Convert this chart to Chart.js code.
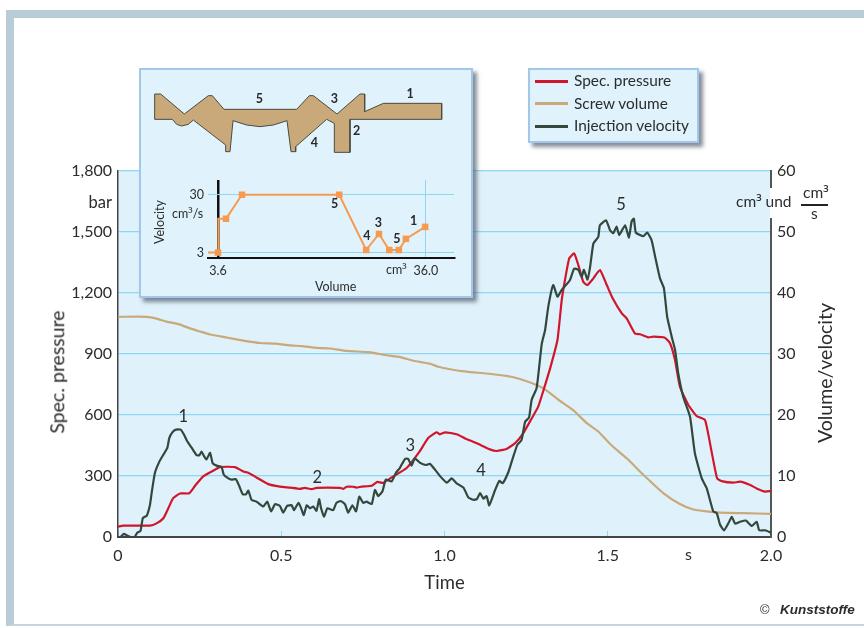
<!DOCTYPE html>
<html><head><meta charset="utf-8">
<script src="https://cdn.jsdelivr.net/npm/chart.js@4/dist/chart.umd.min.js"></script>
<style>
html,body{margin:0;padding:0;background:#fff;overflow:hidden}
#page{position:relative;width:864px;height:628px;overflow:hidden;font-family:Lato,sans-serif;color:#2c2c2c}
#frame{position:absolute;left:6px;top:10px;width:858px;height:616px;border-left:8px solid #b9cdd6;border-top:8px solid #b9cdd6;border-bottom:2px solid #c6d5dc;box-sizing:border-box}
canvas{position:absolute;display:block}
.t{position:absolute;white-space:nowrap;line-height:1}
.s3{font-family:'Noto Sans'}
.rot{transform:translate(-50%,-50%) rotate(-90deg)}
.box{position:absolute;background:#e0f2fb;border:2px solid #a3c7e8;box-sizing:border-box;box-shadow:4px 4px 4px rgba(70,80,100,.65)}
.swatch{position:absolute;left:5px;width:33px;height:3px}
#axisGap{position:absolute;left:770px;top:188px;width:3px;height:30px;background:#fff}
</style></head><body>
<div id="page">
<div id="frame"></div>
<canvas id="main" width="864" height="628" style="left:0;top:0"></canvas>
<div id="axisGap"></div>
<div class="t rot" style="left:57px;top:372px;font-size:19.5px">Spec. pressure</div>
<div class="t rot" style="left:825px;top:373px;font-size:19.5px">Volume/velocity</div>
<div class="t" style="right:752px;top:194px;font-size:16.5px">bar</div>
<div class="t" style="left:685px;top:546px;font-size:16px">s</div>
<div class="t" style="left:736px;top:194px;font-size:15.5px">cm<span class="s3">³</span> und</div>
<div class="t" style="left:803px;top:185px;font-size:15.5px">cm<span class="s3">³</span></div>
<div style="position:absolute;left:801px;top:204px;width:27px;height:1.5px;background:#222"></div>
<div class="t" style="left:811px;top:206px;font-size:15.5px">s</div>
<div class="t" style="left:760px;top:603px;font-size:13px;font-family:'Liberation Sans'">©</div>
<div class="t" style="left:780px;top:603px;font-size:13.5px;font-weight:bold;font-style:italic;font-family:'Liberation Sans'">Kunststoffe</div>

<div class="box" id="legend" style="left:528px;top:68px;width:171px;height:75px"></div>

<div class="box" style="left:139px;top:68px;width:334px;height:230px"></div>
<canvas id="profile" width="300" height="75" style="left:150px;top:85px"></canvas>
<canvas id="inset" width="329" height="225" style="left:141px;top:70px"></canvas>
<div class="t rot" style="left:160px;top:222px;font-size:12.5px">Velocity</div>
<div class="t" style="left:172px;top:208px;font-size:12.5px">cm<span class="s3">³</span>/s</div>
<div class="t" style="left:386px;top:264px;font-size:12.5px">cm<span class="s3">³</span></div>
<div class="t" style="left:315px;top:281px;font-size:12.5px">Volume</div>
</div>
<script>
const pressureTimes=[0,.016,.098,.118,.139,.154,.169,.19,.218,.236,.261,.287,.312,.358,.384,.399,.424,.46,.496,.527,.557,.572,.593,.608,.68,.69,.7,.72,.731,.746,.777,.794,.812,.843,.884,.924,.95,.976,.986,1.002,1.037,1.063,1.099,1.139,1.16,1.19,1.216,1.241,1.267,1.287,1.308,1.325,1.346,1.359,1.369,1.382,1.397,1.41,1.425,1.437,1.456,1.476,1.497,1.515,1.543,1.558,1.583,1.599,1.624,1.64,1.675,1.691,1.706,1.721,1.747,1.772,1.798,1.818,1.835,1.849,1.885,1.905,1.936,1.956,1.982,2];
const pressureBar=[51,56,56,67,92,141,191,214,215,252,298,322,344,344,322,316,293,260,248,243,237,242,235,242,242,237,247,247,243,248,252,271,266,298,339,421,487,515,505,515,505,485,461,431,423,433,461,510,583,641,747,838,969,1165,1264,1370,1395,1337,1255,1239,1272,1313,1239,1174,1100,1075,1001,997,982,985,980,952,870,739,649,595,575,420,288,275,267,272,256,239,223,226];
const volumeTimes=[0,.088,.118,.149,.185,.221,.251,.282,.333,.384,.435,.481,.527,.563,.608,.649,.7,.767,.823,.864,.905,.956,.981,1.017,1.068,1.129,1.19,1.231,1.282,1.313,1.349,1.394,1.435,1.471,1.512,1.558,1.609,1.67,1.721,1.762,1.803,1.844,1.915,2];
const screwVolume=[36.1,36.1,35.8,35.3,34.9,34.2,33.7,33.2,32.7,32.2,31.8,31.7,31.4,31.3,31,30.9,30.5,30.3,29.8,29.5,28.9,28.4,27.9,27.5,27.1,26.8,26.4,25.9,24.9,24,22.5,20.8,18.7,17.3,15,12.9,10.2,7.2,5.4,4.5,4.2,4,3.9,3.8];
const velocityTimes=[.008,.018,.029,.039,.051,.059,.069,.076,.088,.098,.103,.113,.127,.139,.151,.157,.167,.178,.192,.202,.212,.226,.241,.249,.256,.263,.271,.282,.29,.302,.317,.324,.338,.348,.361,.371,.382,.392,.399,.409,.424,.445,.457,.469,.481,.496,.506,.518,.532,.539,.553,.561,.569,.578,.588,.598,.608,.616,.622,.631,.641,.659,.669,.682,.695,.705,.718,.729,.739,.751,.761,.777,.787,.797,.81,.82,.838,.851,.863,.879,.889,.899,.909,.924,.943,.955,.97,.986,1.007,1.022,1.037,1.058,1.073,1.088,1.099,1.109,1.119,1.129,1.137,1.155,1.168,1.178,1.196,1.209,1.223,1.236,1.247,1.259,1.267,1.282,1.29,1.298,1.308,1.318,1.333,1.346,1.359,1.384,1.397,1.41,1.42,1.427,1.438,1.446,1.456,1.471,1.476,1.495,1.507,1.517,1.527,1.535,1.553,1.565,1.573,1.58,1.586,1.609,1.621,1.634,1.645,1.66,1.672,1.682,1.696,1.706,1.716,1.731,1.752,1.767,1.788,1.803,1.823,1.834,1.844,1.856,1.869,1.88,1.89,1.905,1.923,1.941,1.956,1.964,1.982,2];
const injectionVelocity=[0,.5,.2,0,0,.7,1,3.1,3.5,5.3,7.2,10.5,12.4,13.5,14.6,16.2,17.2,17.6,17.6,16.8,15.7,14.6,13.4,13.4,14,13.3,12.7,13.8,12.1,11.7,11.5,10.2,9.6,9.4,9.5,8.4,7,7,7.6,6.1,5.8,5,5.8,4.2,5.4,5.1,4,5.1,5.2,4.4,5.6,4.7,3.6,5.2,4.7,5,4.3,6.2,4.7,3.3,4.7,4.4,5.6,5.9,5.4,4,5.2,4.2,6.6,5.6,5.8,5.4,7.7,6.7,7.5,9.4,9.1,10.5,11.3,12.8,12.8,11.7,12.9,12.2,11.8,12,11.1,10,8.9,9.6,8.8,8.1,6.5,6.1,6.2,7.2,6.3,6.7,5.2,7.7,9.2,8.8,10.7,12.9,15.1,15.9,18.9,19.6,22.5,24.4,27.9,31.7,33.9,37.8,41.3,39.4,40.5,42.1,44,43.8,42.6,43.8,42.2,44.3,48.1,49.2,51.1,51.9,50.3,49.8,50.9,49.5,51.1,49.1,51.7,52.2,49.9,49.3,49.9,48.7,46,42.4,40.8,36.1,32.8,30.7,26.8,23,19.7,13.7,9.6,8,4.2,3.9,2,1.1,2.2,3.3,2.2,2.5,2.7,1.8,2.5,1.1,1.1,.7];
const peakLabels=['1','2','3','4','5'];
const peakTimes=[.2,.61,.895,1.112,1.541];
const peakValues=[19.8,9.7,14.9,10.8,54.4];

const insetVolumes=[2.04,3.6,3.65,4.85,7.34,22.5,26.7,28.7,30.3,31.8,32.9,35.9];
const insetVelocities=[3,3,18.8,18.8,30,30,4.2,11.7,4.2,4.2,9.4,15];
const insetMarkerFlags=[0,1,0,1,1,1,1,1,1,1,1,1];
const insetLabels=['5','4','3','5','1'];
const insetLabelVolumes=[21.8,26.8,28.6,31.5,34.1];
const insetLabelVelocities=[25.6,10.6,16.9,9.4,17.8];
const insetXTicks=[3.6,36];
const insetYTicks=[3,30];

const profileX=[74,92,163,235,247,282,500,538,550,621,690,704,704,760,935,935,660,660,613,613,590,497,497,483,471,430,390,350,309,300,287,287,190,175,155,140,127,74,74];
const profileY=[102,102,162,107,107,148,148,107,107,162,102,102,155,130,130,178,178,277,277,190,178,260,275,275,182,195,200,195,182,275,275,255,180,193,198,193,178,178,102];
const profileLabels=['5','3','1','2','4'];
const profileLabelX=[388,613,840,680,553];
const profileLabelY=[116,118,103,212,248];

const seriesNames=['Spec. pressure','Screw volume','Injection velocity'];
const seriesColors=['#d1162c','#c9a97a','#33473c'];
const GRID='#8ed7f2', INK='#2c2c2c', FONT='Lato';
const pts=(xs,ys)=>xs.map((x,i)=>({x,y:ys[i]}));

const notes={id:'notes',afterDraw(c,a,o){
  if(!o.text)return;const g=c.ctx;g.save();g.font=o.font;g.fillStyle=o.color;g.textAlign='center';g.textBaseline='middle';
  o.text.forEach((t,i)=>g.fillText(t,c.scales.x.getPixelForValue(o.xs[i]),c.scales[o.axis].getPixelForValue(o.ys[i])));g.restore();}};
const plotBg={id:'plotBg',beforeDraw(c,a,o){if(!o.color)return;const r=c.chartArea;c.ctx.save();c.ctx.fillStyle=o.color;c.ctx.fillRect(r.left,r.top,r.right-r.left,r.bottom-r.top);c.ctx.restore();}};

new Chart(document.getElementById('main'),{type:'line',plugins:[plotBg,notes],
 data:{datasets:[
  {label:seriesNames[0],data:pts(pressureTimes,pressureBar),yAxisID:'y',borderColor:seriesColors[0],borderWidth:2.2,pointRadius:0,tension:.15,order:1},
  {label:seriesNames[1],data:pts(volumeTimes,screwVolume),yAxisID:'y1',borderColor:seriesColors[1],borderWidth:2.2,pointRadius:0,tension:.15,order:2},
  {label:seriesNames[2],data:pts(velocityTimes,injectionVelocity),yAxisID:'y1',borderColor:seriesColors[2],borderWidth:2.2,pointRadius:0,tension:.15,order:0}]},
 options:{responsive:false,animation:false,events:[],layout:{padding:{left:0,right:0,top:171,bottom:34}},
  plugins:{legend:{display:false},tooltip:{enabled:false},plotBg:{color:'#dff2fb'},
   notes:{text:peakLabels,xs:peakTimes,ys:peakValues,axis:'y1',font:'16.5px '+FONT,color:INK}},
  scales:{
   x:{type:'linear',min:0,max:2,afterFit(s){s.height=57},afterBuildTicks(s){s.ticks=[0,.5,1,1.5,2].map(value=>({value}))},
    border:{color:'#444',width:2},grid:{drawOnChartArea:false,drawTicks:true,tickLength:-6,color:GRID},
    ticks:{padding:15,color:INK,font:{family:FONT,size:16},maxRotation:0,autoSkip:false,callback:v=>v===0?'0':v.toFixed(1)},
    title:{display:true,text:'Time',color:INK,font:{family:FONT,size:18.5},padding:0}},
   y:{position:'left',min:0,max:1800,afterFit(s){s.width=118},border:{color:'#444',width:1.5},
    grid:{color:GRID,lineWidth:1.2,drawTicks:false},
    ticks:{stepSize:300,padding:6,color:INK,font:{family:FONT,size:16},autoSkip:false,callback:v=>v.toLocaleString('en-US')}},
   y1:{position:'right',min:0,max:60,afterFit(s){s.width=93},border:{color:'#555',width:2},
    grid:{drawOnChartArea:false,drawTicks:false},
    ticks:{stepSize:10,padding:6,color:INK,font:{family:FONT,size:16},autoSkip:false}}
  }}});

new Chart(document.getElementById('profile'),{type:'line',plugins:[notes],
 data:{datasets:[{data:pts(profileX,profileY),borderColor:'#4a4a40',borderWidth:1,backgroundColor:'#c9a97a',fill:'shape',pointRadius:0,tension:0}]},
 options:{responsive:false,animation:false,events:[],
  plugins:{legend:{display:false},tooltip:{enabled:false},
   notes:{text:profileLabels,xs:profileLabelX,ys:profileLabelY,axis:'y',font:'bold 12.5px '+FONT,color:'#2a2a2a'}},
  scales:{x:{type:'linear',display:false,min:60,max:960},y:{display:false,min:75,max:300,reverse:true}}}});

new Chart(document.getElementById('inset'),{type:'line',plugins:[notes],
 data:{datasets:[{data:pts(insetVolumes,insetVelocities),borderColor:'#f79a4f',borderWidth:2,tension:0,
   pointStyle:'rect',backgroundColor:'#f79a4f',pointBackgroundColor:'#f79a4f',pointBorderWidth:0,
   pointRadius:insetMarkerFlags.map(f=>f?4.6:0),clip:false}]},
 options:{responsive:false,animation:false,events:[],layout:{padding:{left:0,right:16,top:110,bottom:0}},
  plugins:{legend:{display:false},tooltip:{enabled:false},
   notes:{text:insetLabels,xs:insetLabelVolumes,ys:insetLabelVelocities,axis:'y',font:'bold 12.5px '+FONT,color:'#2a2a2a'}},
  scales:{
   x:{type:'linear',min:2.04,max:40.4,afterFit(s){s.height=37},afterBuildTicks(s){s.ticks=insetXTicks.map(value=>({value}))},
    border:{color:'#111',width:2},
    grid:{drawTicks:false,lineWidth:c=>c.tick&&c.tick.value===3.6?2.5:1,color:c=>!c.tick?'rgba(0,0,0,0)':(c.tick.value===3.6?'#111':GRID)},
    ticks:{padding:5,color:INK,font:{family:FONT,size:12.5},maxRotation:0,autoSkip:false,callback:v=>v.toFixed(1)}},
   y:{position:'left',min:.47,max:36.9,afterFit(s){s.width=67},afterBuildTicks(s){s.ticks=insetYTicks.map(value=>({value}))},
    border:{display:false},grid:{drawTicks:false,color:GRID,lineWidth:1},
    ticks:{padding:4,color:INK,font:{family:FONT,size:12.5},autoSkip:false}}
  }}});

const lg=document.getElementById('legend');
seriesNames.forEach((n,i)=>{
  const s=document.createElement('div');s.className='swatch';s.style.top=(9.5+22.5*i)+'px';s.style.background=seriesColors[i];lg.appendChild(s);
  const t=document.createElement('div');t.className='t';t.style.left='44px';t.style.top=(3+22.5*i)+'px';t.style.fontSize='15.4px';t.textContent=n;lg.appendChild(t);
});
</script>
</body></html>
